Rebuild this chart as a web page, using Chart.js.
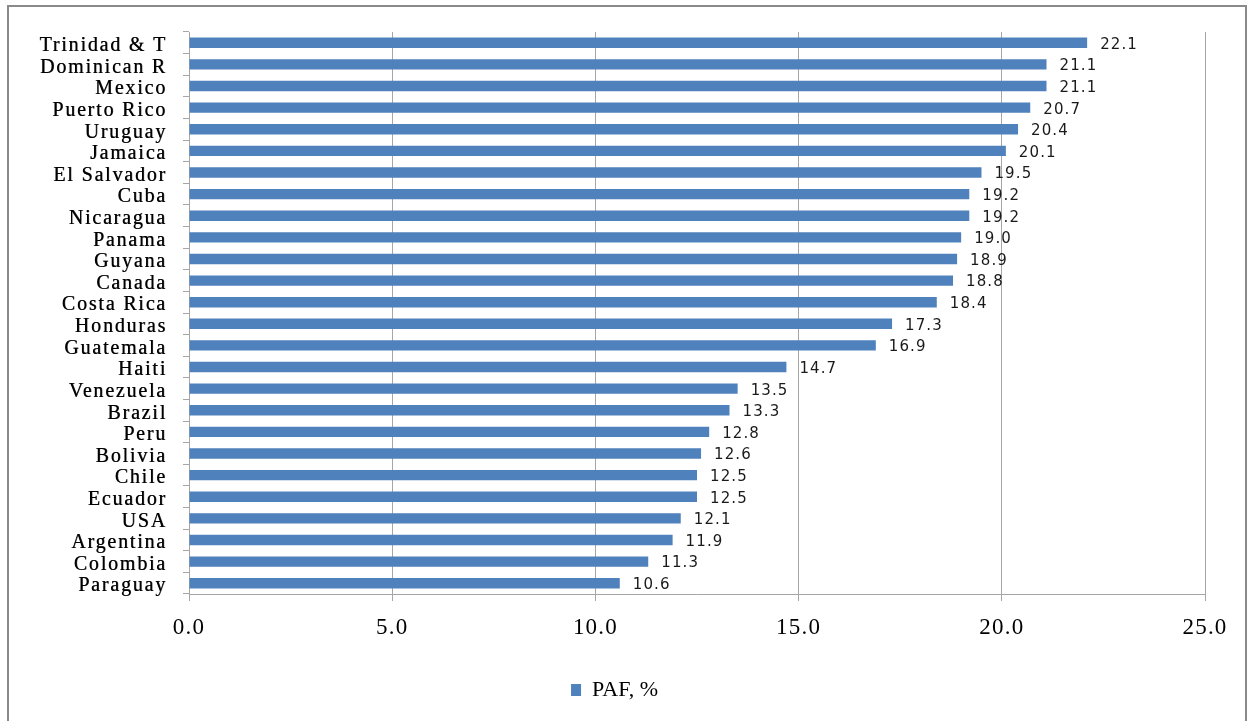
<!DOCTYPE html>
<html>
<head>
<meta charset="utf-8">
<script src="https://cdn.jsdelivr.net/npm/chart.js@4/dist/chart.umd.min.js"></script>
<style>
  html, body { margin: 0; padding: 0; background: #fff; }
  #wrap { position: relative; width: 1255px; height: 721px; overflow: hidden; }
  #frame { position: absolute; left: 7px; top: 5px; width: 1240px; height: 760px; border: 2px solid #8a8a8a; box-sizing: border-box; }
  #c { position: absolute; left: 0; top: 0; }
</style>
</head>
<body>
<div id="wrap">
  <div id="frame"></div>
  <canvas id="c" width="1255" height="721"></canvas>
</div>
<script>
const countries = ["Trinidad & T","Dominican R","Mexico","Puerto Rico","Uruguay","Jamaica","El Salvador","Cuba","Nicaragua","Panama","Guyana","Canada","Costa Rica","Honduras","Guatemala","Haiti","Venezuela","Brazil","Peru","Bolivia","Chile","Ecuador","USA","Argentina","Colombia","Paraguay"];
const pafValues = [22.1,21.1,21.1,20.7,20.4,20.1,19.5,19.2,19.2,19.0,18.9,18.8,18.4,17.3,16.9,14.7,13.5,13.3,12.8,12.6,12.5,12.5,12.1,11.9,11.3,10.6];
const seriesName = "PAF, %";
const xTicks = [0, 5, 10, 15, 20, 25];

const valueLabels = {
  id: 'valueLabels',
  afterDatasetsDraw(chart) {
    const ctx = chart.ctx;
    const meta = chart.getDatasetMeta(0);
    ctx.save();
    ctx.font = '15px "DejaVu Sans"';
    ctx.letterSpacing = '1.1px';
    ctx.fillStyle = '#1a1a1a';
    ctx.textAlign = 'left';
    ctx.textBaseline = 'middle';
    meta.data.forEach((bar, i) => {
      ctx.fillText(pafValues[i].toFixed(1), bar.x + 13, bar.y + 2);
    });
    ctx.restore();
  }
};

function wrapLabels(chart, id, spacing, bold) {
  const s = chart.scales[id];
  if (s && !s._wrapped) {
    const orig = s.drawLabels.bind(s);
    s.drawLabels = function (ca) {
      const c = chart.ctx;
      c.save();
      c.letterSpacing = spacing;
      if (bold) {
        c.shadowColor = 'rgba(0,0,0,0.7)';
        c.shadowOffsetX = 0.5;
        c.shadowOffsetY = 0;
        c.shadowBlur = 0;
      }
      orig(ca);
      c.restore();
    };
    s._wrapped = true;
  }
}

const spacedText = {
  id: 'spacedText',
  afterLayout(chart) {
    wrapLabels(chart, 'y', '1.8px', true);
    wrapLabels(chart, 'x', '1.2px', false);
    const lg = chart.legend;
    if (lg) { lg.left += 12; lg.right += 12; }
  }
};

new Chart(document.getElementById('c'), {
  type: 'bar',
  data: {
    labels: countries,
    datasets: [{
      label: seriesName,
      data: pafValues,
      backgroundColor: '#4F81BD',
      borderWidth: 0,
      barPercentage: 0.48,
      categoryPercentage: 1.0
    }]
  },
  options: {
    indexAxis: 'y',
    responsive: false,
    animation: false,
    devicePixelRatio: 1,
    layout: { padding: { left: 0, top: 32, right: 50, bottom: 10 } },
    scales: {
      x: {
        min: 0, max: 25,
        afterBuildTicks(scale) { scale.ticks = xTicks.map(v => ({ value: v })); },
        afterFit(scale) { scale.height = 75; },
        grid: { color: '#a6a6a6', lineWidth: 1, tickLength: 7, drawTicks: true },
        border: { color: '#a6a6a6', width: 1 },
        ticks: {
          color: '#000',
          font: { family: '"Liberation Serif"', size: 23 },
          padding: 13,
          callback: (v) => Number(v).toFixed(1)
        }
      },
      y: {
        afterFit(scale) { scale.width = 189; },
        grid: { drawOnChartArea: false, color: '#a6a6a6', tickLength: 6, offset: true },
        border: { color: '#a6a6a6', width: 1 },
        ticks: {
          color: '#000',
          font: { family: '"Liberation Serif"', size: 20 },
          padding: 16,
          labelOffset: 3,
          autoSkip: false
        }
      }
    },
    plugins: {
      legend: {
        position: 'bottom',
        labels: {
          color: '#000',
          font: { family: '"Liberation Serif"', size: 22 },
          boxWidth: 10,
          boxHeight: 12,
          padding: 10
        }
      },
      tooltip: { enabled: false }
    }
  },
  plugins: [valueLabels, spacedText]
});
</script>
</body>
</html>
